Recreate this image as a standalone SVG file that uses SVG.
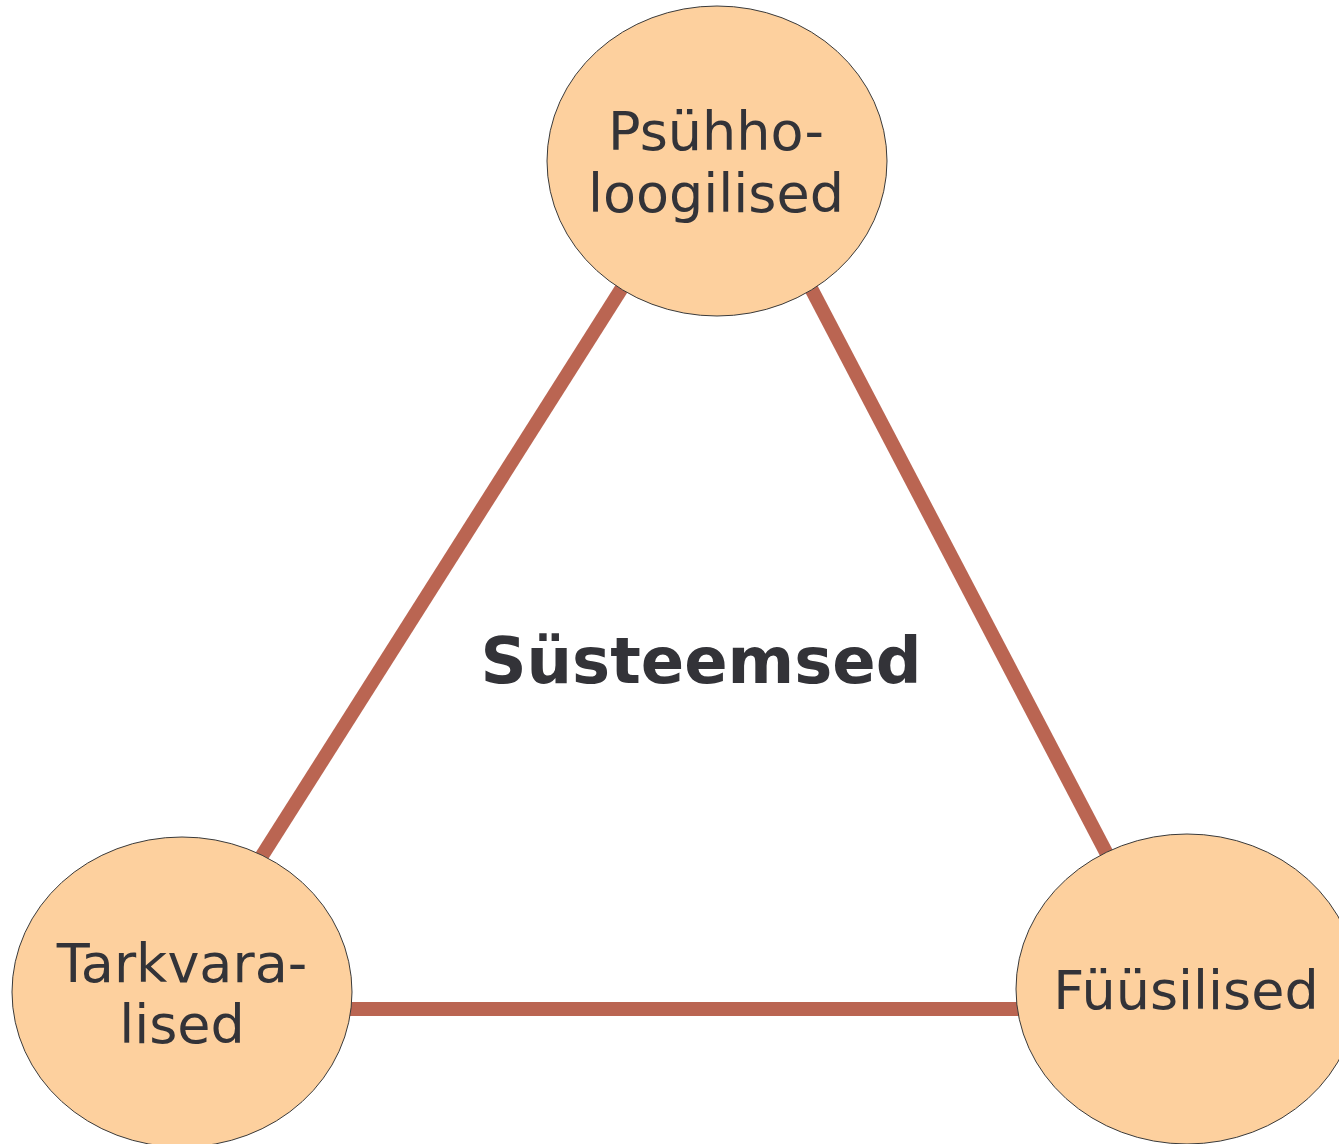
<svg xmlns="http://www.w3.org/2000/svg" width="1339" height="1144" viewBox="0 0 1339 1144">
<style>
.conn{stroke:#BA6552;stroke-width:14;fill:none}
.node ellipse{fill:#FDD09E;stroke:#3a3a3a;stroke-width:1}
.lbl{font-family:"DejaVu Sans",sans-serif;font-size:54px;fill:#333338;text-anchor:middle}
.title{font-family:"DejaVu Sans",sans-serif;font-size:64px;font-weight:bold;fill:#333338;text-anchor:middle}
</style>
<rect width="1339" height="1144" fill="#ffffff"/>
<g id="connectors">
<line class="conn" x1="646" y1="250" x2="234" y2="900"/>
<line class="conn" x1="791" y1="250" x2="1131" y2="900"/>
<line class="conn" x1="300" y1="1009" x2="1050" y2="1009"/>
</g>
<g id="node-psyhholoogilised" class="node">
<ellipse cx="717" cy="161" rx="170" ry="155"/>
<text class="lbl" x="716" y="150">Psühho-</text>
<text class="lbl" x="716" y="212">loogilised</text>
</g>
<g id="node-tarkvaralised" class="node">
<ellipse cx="182" cy="992" rx="170" ry="155"/>
<text class="lbl" x="182" y="982">Tarkvara-</text>
<text class="lbl" x="182" y="1043">lised</text>
</g>
<g id="node-fyysilised" class="node">
<ellipse cx="1187" cy="989" rx="171" ry="155"/>
<text class="lbl" x="1186" y="1009">Füüsilised</text>
</g>
<g id="label-systeemsed">
<text class="title" x="701" y="683">Süsteemsed</text>
</g>
</svg>
